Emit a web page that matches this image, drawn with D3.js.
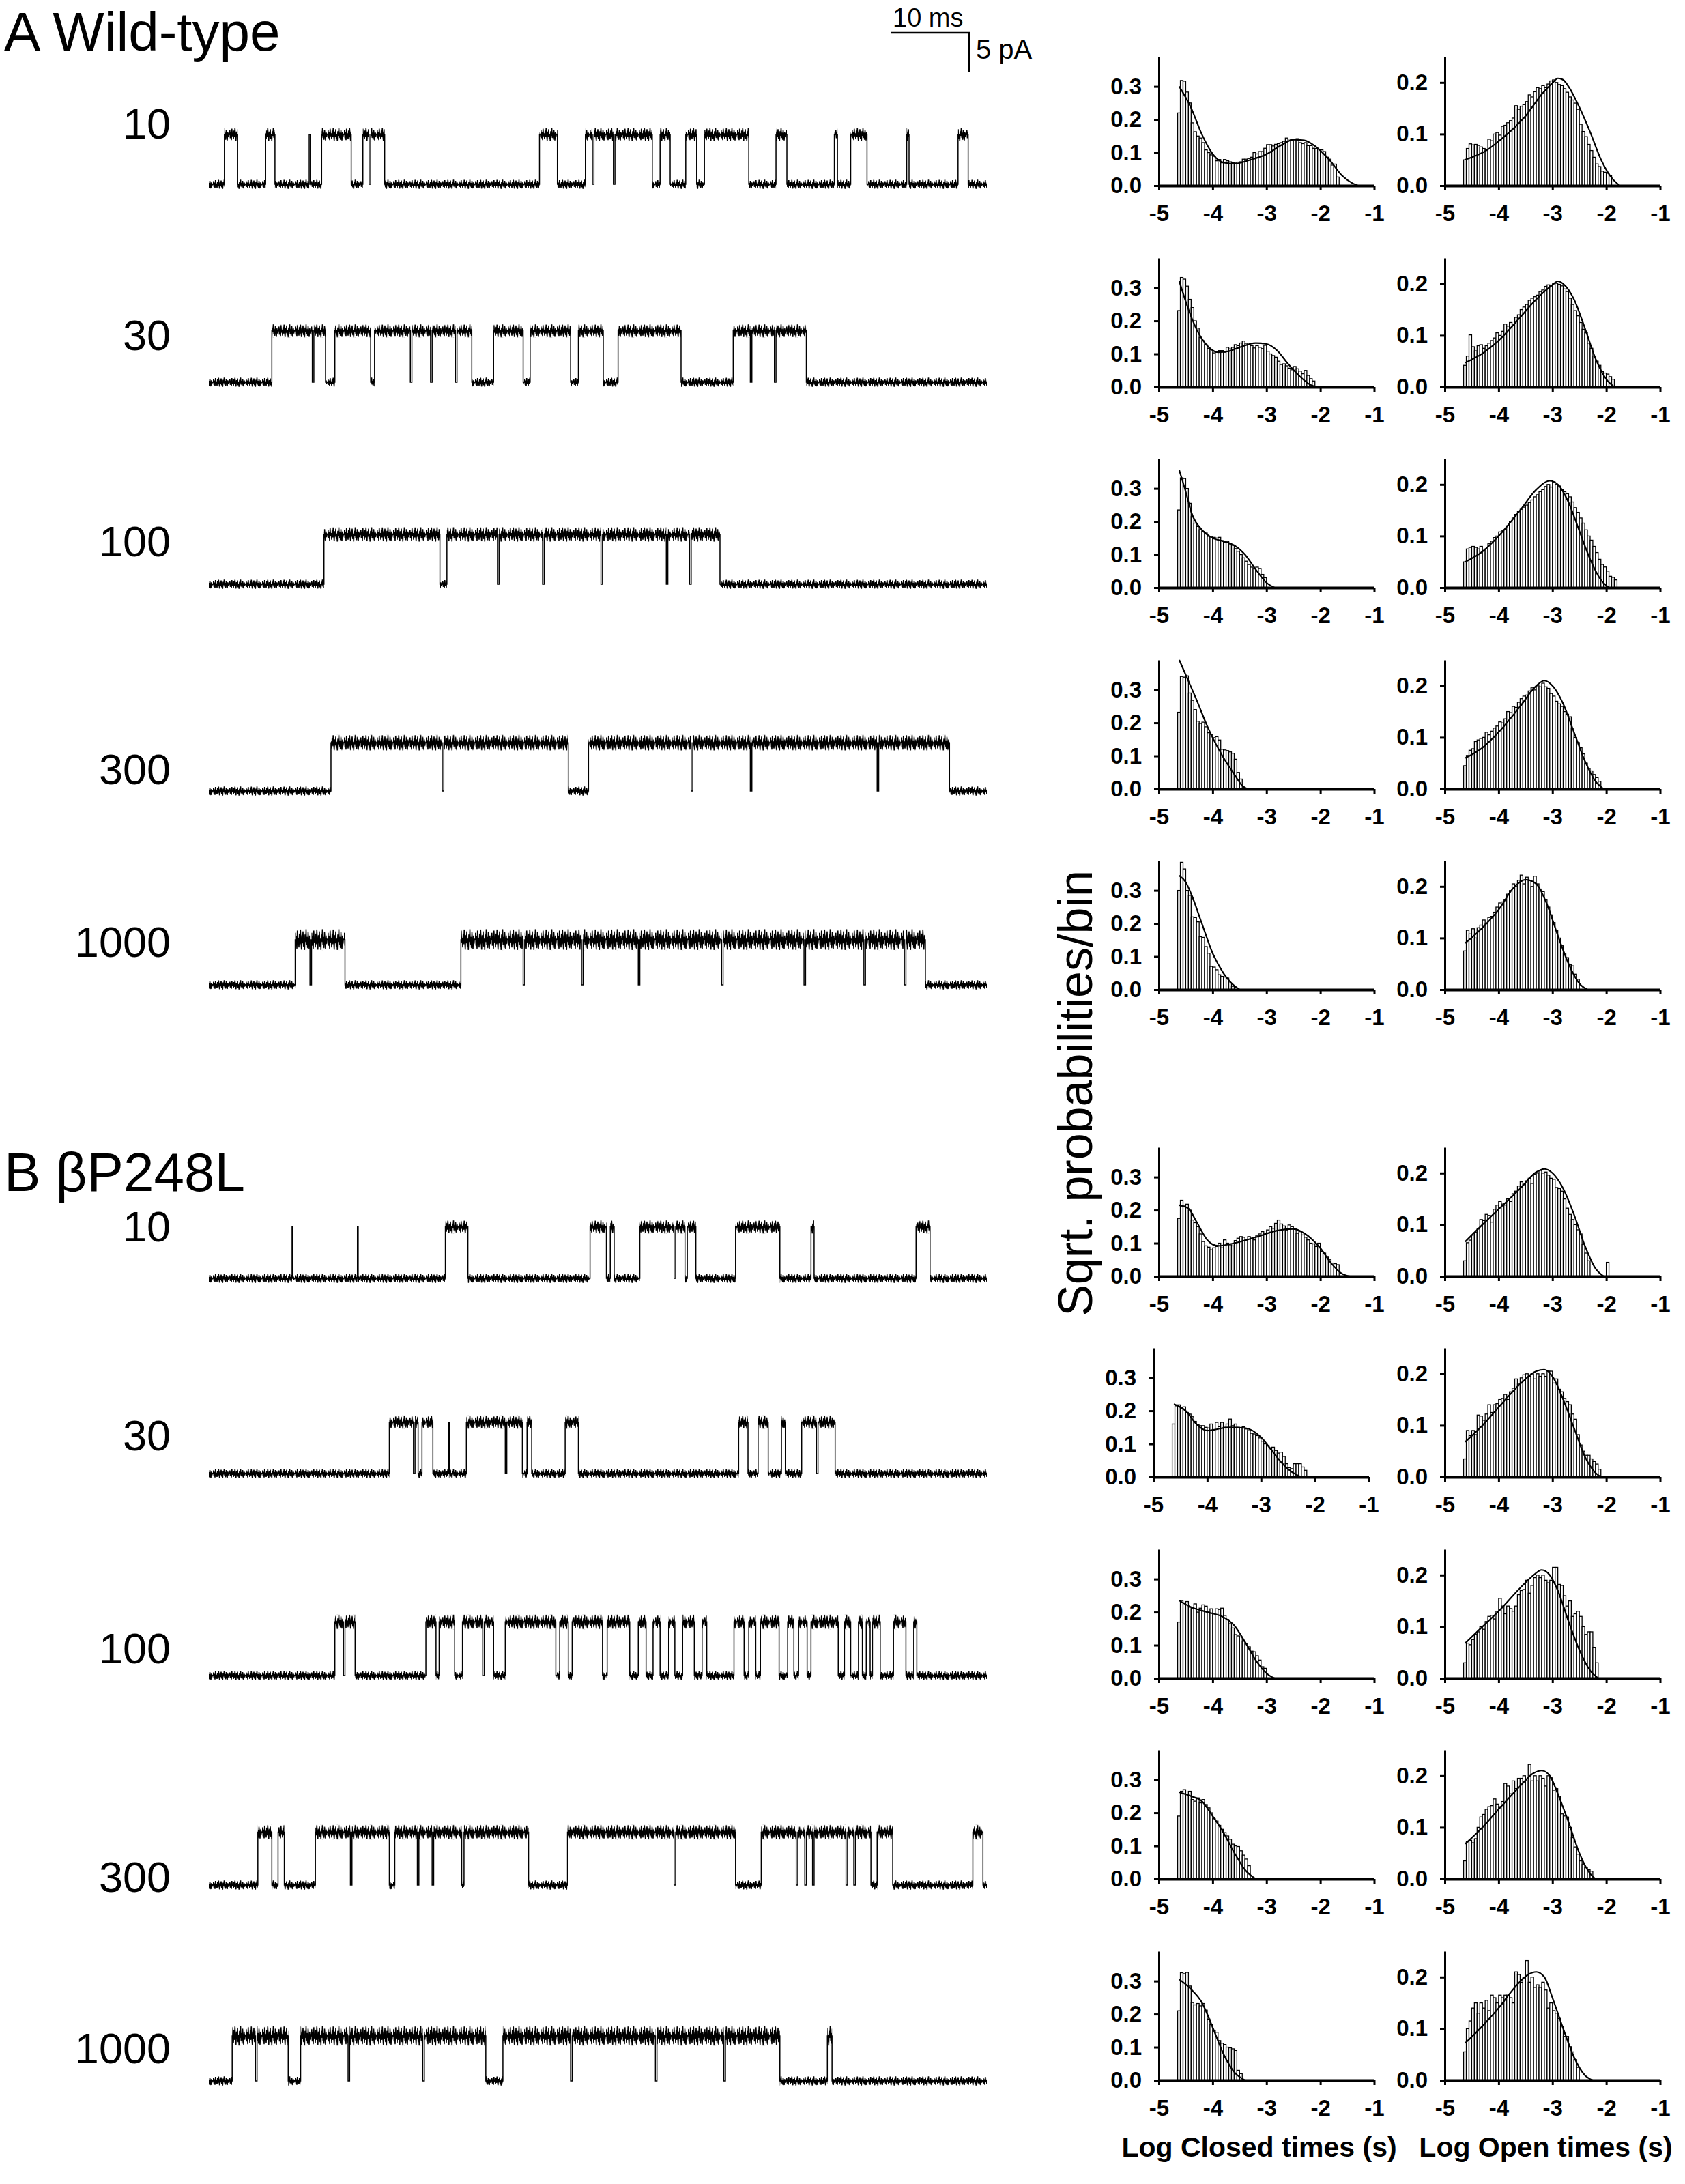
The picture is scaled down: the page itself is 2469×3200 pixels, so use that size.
<!DOCTYPE html>
<html>
<head>
<meta charset="UTF-8" />
<title>Wild-type / βP248L single-channel records</title>
<script src="https://cdn.jsdelivr.net/npm/d3@7"></script>
<style>
	body { margin: 0; background: #fff; }
	svg text { font-family: "Liberation Sans", Arial, Helvetica, sans-serif; fill: #000; }
</style>
</head>
<body>
<svg id="fig" width="2469" height="3200"></svg>
<script>
// ================= data =================
var concentrations = ["10", "30", "100", "300", "1000"];
var traceLength = 100; // ms shown per record

// open-channel amplitude of each record (pA)
var wtAmp  = [6.4, 6.6, 6.4, 6.2, 5.8];
var mutAmp = [6.6, 6.6, 6.9, 6.8, 5.8];

// openings [start, end] in ms
var wtOpenings = [
	[[2.0,3.7],[7.3,8.5],[12.9,13.05],[14.5,18.3],[19.8,20.6],[20.8,22.6],[42.5,44.8],[48.4,49.3],[49.5,52.0],[52.2,57.0],[58.0,59.3],[61.3,62.7],[63.7,69.4],[72.9,74.3],[80.4,80.8],[82.5,84.6],[89.7,90.0],[96.3,97.6]],
	[[8.1,13.3],[13.5,15.0],[16.2,20.8],[21.3,25.9],[26.1,28.5],[28.7,31.7],[31.9,33.8],[36.6,40.4],[41.3,46.5],[47.5,50.7],[52.6,60.7],[67.4,69.6],[69.8,72.7],[72.9,76.8]],
	[[14.8,29.7],[30.6,37.1],[37.3,42.9],[43.1,50.4],[50.6,58.8],[59.0,61.8],[62.0,65.7]],
	[[15.7,30.0],[30.2,46.2],[48.8,62.0],[62.2,69.6],[69.8,85.9],[86.1,95.2]],
	[[11.1,13.0],[13.2,17.5],[32.4,40.4],[40.6,47.9],[48.1,55.2],[55.4,65.9],[66.1,76.5],[76.7,84.2],[84.4,89.4],[89.6,92.1]]
];
var mutOpenings = [
	[[10.7,10.8],[19.1,19.2],[30.4,33.3],[49.0,51.1],[51.6,52.1],[55.4,59.8],[60.0,61.2],[61.5,62.6],[67.7,73.4],[77.4,77.8],[90.9,92.7]],
	[[23.2,26.3],[26.5,26.9],[27.4,28.8],[30.8,30.9],[33.1,38.1],[38.3,40.3],[40.9,41.5],[45.8,47.5],[68.1,69.3],[70.6,71.9],[73.6,74.1],[76.2,78.1],[78.3,80.5]],
	[[16.2,17.3],[17.5,18.8],[27.9,29.2],[29.6,31.6],[32.6,35.2],[35.4,36.6],[38.1,44.6],[45.1,46.2],[46.7,50.6],[51.2,54.1],[55.2,56.2],[57.1,58.0],[59.1,59.9],[60.9,62.4],[63.4,64.0],[67.5,68.8],[69.4,70.3],[70.9,73.3],[74.4,75.2],[75.8,76.9],[77.4,80.9],[81.7,82.5],[83.5,84.0],[84.5,85.0],[85.3,86.3],[88.0,89.6],[90.6,91.0]],
	[[6.3,8.1],[8.9,9.7],[13.7,18.2],[18.4,23.2],[23.9,26.8],[27.0,28.7],[28.9,32.5],[32.8,41.1],[46.1,59.8],[60.0,67.7],[71.0,75.5],[75.7,76.6],[76.8,77.6],[77.8,81.9],[82.1,82.9],[83.1,85.1],[85.9,87.9],[98.2,99.5]],
	[[3.0,6.0],[6.2,10.2],[11.8,17.9],[18.1,27.5],[27.7,35.6],[37.8,46.5],[46.7,57.4],[57.6,66.2],[66.4,73.4],[79.5,80.1]]
];

// dwell-time histograms: sqrt(probability) per bin, bins of 0.05 log units from -4.65
var binStart = -4.65, binWidth = 0.05;

var wtClosedBins = [
	[0.220,0.318,0.316,0.283,0.250,0.190,0.163,0.150,0.144,0.130,0.108,0.100,0.093,0.089,0.075,0.079,0.069,0.079,0.075,0.072,0.069,0.070,0.071,0.072,0.080,0.080,0.082,0.086,0.100,0.096,0.103,0.103,0.113,0.124,0.124,0.120,0.125,0.127,0.130,0.134,0.144,0.141,0.139,0.141,0.142,0.130,0.127,0.130,0.121,0.121,0.113,0.112,0.110,0.108,0.103,0.086,0.080,0.062,0.065,0.026],
	[0.231,0.331,0.326,0.305,0.265,0.240,0.200,0.178,0.150,0.140,0.128,0.117,0.113,0.103,0.105,0.110,0.110,0.105,0.120,0.115,0.120,0.128,0.125,0.133,0.139,0.132,0.128,0.125,0.118,0.125,0.120,0.116,0.126,0.108,0.100,0.095,0.090,0.078,0.068,0.070,0.064,0.057,0.052,0.062,0.055,0.048,0.040,0.050,0.035,0.025,0.018],
	[0.235,0.332,0.330,0.300,0.255,0.215,0.195,0.185,0.175,0.170,0.165,0.155,0.155,0.152,0.150,0.152,0.142,0.138,0.140,0.130,0.128,0.118,0.110,0.100,0.090,0.080,0.070,0.062,0.058,0.062,0.058,0.040,0.030],
	[0.232,0.340,0.338,0.342,0.290,0.268,0.240,0.205,0.198,0.202,0.188,0.170,0.165,0.155,0.158,0.148,0.120,0.118,0.116,0.112,0.108,0.090,0.050,0.030],
	[0.300,0.385,0.365,0.300,0.285,0.220,0.218,0.205,0.160,0.158,0.130,0.110,0.070,0.068,0.060,0.045,0.040,0.038,0.035,0.020,0.010]
];
var wtOpenBins = [
	[0.050,0.072,0.081,0.079,0.080,0.078,0.075,0.072,0.070,0.090,0.087,0.100,0.103,0.098,0.115,0.117,0.122,0.126,0.131,0.155,0.148,0.154,0.157,0.163,0.176,0.172,0.182,0.190,0.188,0.194,0.190,0.197,0.203,0.205,0.200,0.196,0.194,0.188,0.181,0.172,0.166,0.160,0.148,0.119,0.105,0.095,0.080,0.068,0.055,0.042,0.037,0.028,0.026,0.024,0.020],
	[0.042,0.060,0.101,0.078,0.070,0.080,0.082,0.075,0.080,0.085,0.090,0.095,0.105,0.100,0.108,0.122,0.118,0.125,0.122,0.135,0.140,0.150,0.155,0.160,0.168,0.172,0.175,0.178,0.185,0.188,0.195,0.198,0.196,0.200,0.201,0.199,0.196,0.190,0.185,0.172,0.160,0.148,0.138,0.125,0.112,0.105,0.085,0.075,0.060,0.050,0.042,0.030,0.027,0.025,0.020,0.015],
	[0.050,0.075,0.078,0.080,0.078,0.075,0.080,0.072,0.075,0.085,0.090,0.097,0.100,0.108,0.110,0.112,0.120,0.128,0.135,0.142,0.148,0.152,0.156,0.160,0.165,0.170,0.176,0.180,0.186,0.190,0.196,0.200,0.195,0.205,0.200,0.197,0.190,0.186,0.182,0.176,0.166,0.155,0.146,0.135,0.125,0.112,0.100,0.092,0.080,0.068,0.055,0.045,0.040,0.032,0.022,0.020,0.015],
	[0.045,0.065,0.075,0.078,0.092,0.095,0.098,0.100,0.110,0.105,0.112,0.118,0.122,0.130,0.128,0.136,0.150,0.148,0.160,0.158,0.168,0.175,0.180,0.182,0.190,0.196,0.192,0.200,0.198,0.205,0.198,0.195,0.185,0.180,0.170,0.165,0.160,0.150,0.145,0.140,0.118,0.100,0.090,0.080,0.068,0.050,0.040,0.035,0.028,0.022,0.015],
	[0.075,0.115,0.108,0.118,0.100,0.120,0.125,0.135,0.128,0.140,0.142,0.150,0.160,0.168,0.170,0.175,0.185,0.192,0.205,0.200,0.212,0.222,0.205,0.218,0.212,0.200,0.220,0.205,0.195,0.190,0.175,0.160,0.145,0.130,0.115,0.100,0.085,0.070,0.062,0.048,0.046,0.030,0.020]
];
var mutClosedBins = [
	[0.175,0.230,0.215,0.218,0.200,0.170,0.162,0.150,0.128,0.105,0.092,0.088,0.080,0.086,0.090,0.100,0.086,0.110,0.100,0.095,0.092,0.108,0.115,0.120,0.118,0.112,0.120,0.118,0.110,0.122,0.128,0.135,0.130,0.140,0.150,0.145,0.160,0.170,0.158,0.152,0.140,0.155,0.150,0.145,0.130,0.135,0.125,0.118,0.110,0.100,0.098,0.090,0.100,0.075,0.070,0.058,0.050,0.040,0.038,0.035],
	[0.160,0.215,0.218,0.210,0.212,0.195,0.190,0.182,0.168,0.158,0.155,0.155,0.150,0.148,0.160,0.142,0.165,0.152,0.165,0.150,0.160,0.175,0.155,0.160,0.150,0.148,0.152,0.145,0.140,0.132,0.130,0.125,0.118,0.108,0.100,0.095,0.088,0.090,0.080,0.072,0.075,0.062,0.040,0.028,0.025,0.040,0.040,0.040,0.030,0.020],
	[0.170,0.235,0.228,0.232,0.215,0.210,0.225,0.200,0.212,0.222,0.218,0.200,0.210,0.195,0.210,0.208,0.212,0.190,0.178,0.165,0.152,0.132,0.128,0.125,0.112,0.105,0.095,0.082,0.080,0.068,0.055,0.035,0.030],
	[0.190,0.265,0.270,0.255,0.265,0.240,0.235,0.245,0.230,0.240,0.225,0.215,0.200,0.182,0.175,0.162,0.150,0.140,0.130,0.120,0.105,0.100,0.098,0.085,0.072,0.060,0.040],
	[0.210,0.325,0.322,0.326,0.285,0.235,0.228,0.232,0.225,0.232,0.212,0.185,0.168,0.150,0.145,0.120,0.112,0.108,0.100,0.098,0.095,0.090,0.030,0.020]
];
var mutOpenBins = [
	[0.030,0.065,0.070,0.080,0.085,0.092,0.110,0.108,0.120,0.118,0.105,0.130,0.138,0.145,0.140,0.138,0.150,0.145,0.160,0.165,0.175,0.183,0.178,0.185,0.190,0.180,0.198,0.200,0.205,0.200,0.202,0.196,0.190,0.188,0.172,0.170,0.165,0.150,0.132,0.120,0.110,0.100,0.090,0.082,0.062,0.045,0.030,0,0,0,0,0,0,0.027],
	[0.035,0.090,0.080,0.090,0.082,0.120,0.118,0.110,0.122,0.140,0.125,0.140,0.142,0.150,0.152,0.160,0.150,0.165,0.172,0.190,0.180,0.192,0.198,0.200,0.195,0.200,0.190,0.200,0.195,0.200,0.195,0.205,0.205,0.182,0.190,0.170,0.165,0.152,0.146,0.140,0.122,0.112,0.082,0.062,0.050,0.042,0.042,0.035,0.030,0.025,0.015],
	[0.030,0.068,0.065,0.075,0.085,0.090,0.100,0.095,0.110,0.120,0.122,0.115,0.130,0.155,0.140,0.125,0.140,0.135,0.130,0.140,0.162,0.170,0.172,0.190,0.165,0.180,0.195,0.200,0.195,0.200,0.190,0.185,0.190,0.215,0.215,0.182,0.180,0.160,0.140,0.150,0.120,0.125,0.130,0.120,0.100,0.085,0.090,0.090,0.060,0.030],
	[0.035,0.072,0.075,0.070,0.078,0.100,0.120,0.125,0.135,0.140,0.142,0.155,0.145,0.140,0.150,0.185,0.180,0.165,0.190,0.175,0.195,0.195,0.200,0.190,0.222,0.190,0.200,0.190,0.200,0.195,0.180,0.200,0.196,0.172,0.175,0.160,0.126,0.122,0.120,0.100,0.080,0.062,0.048,0.035,0.028,0.022,0.018,0.015],
	[0.055,0.100,0.115,0.140,0.150,0.130,0.150,0.140,0.155,0.135,0.165,0.160,0.150,0.165,0.160,0.165,0.165,0.160,0.150,0.210,0.205,0.190,0.200,0.232,0.190,0.200,0.180,0.185,0.180,0.190,0.175,0.140,0.150,0.135,0.130,0.120,0.105,0.085,0.085,0.065,0.055,0.040,0.025]
];

// fitted curves, [log t, sqrt p] read along each drawn fit
var wtClosedFit = [
	[[-4.62,0.30],[-4.4,0.235],[-4.2,0.155],[-4.0,0.096],[-3.8,0.07],[-3.6,0.066],[-3.3,0.078],[-3.0,0.095],[-2.7,0.125],[-2.5,0.139],[-2.3,0.137],[-2.1,0.12],[-1.9,0.09],[-1.8,0.072],[-1.6,0.031],[-1.4,0.007],[-1.3,0.0]],
	[[-4.62,0.32],[-4.45,0.235],[-4.3,0.175],[-4.1,0.125],[-3.9,0.105],[-3.7,0.108],[-3.5,0.12],[-3.2,0.133],[-3.0,0.13],[-2.8,0.11],[-2.6,0.07],[-2.4,0.035],[-2.2,0.008],[-2.05,0.0]],
	[[-4.62,0.355],[-4.5,0.29],[-4.4,0.23],[-4.2,0.175],[-4.0,0.15],[-3.8,0.14],[-3.6,0.128],[-3.4,0.1],[-3.2,0.055],[-3.0,0.015],[-2.85,0.0]],
	[[-4.62,0.39],[-4.5,0.345],[-4.3,0.27],[-4.1,0.19],[-4.0,0.155],[-3.8,0.095],[-3.6,0.045],[-3.45,0.01],[-3.35,0.0]],
	[[-4.62,0.345],[-4.5,0.325],[-4.4,0.29],[-4.2,0.2],[-4.0,0.11],[-3.8,0.05],[-3.6,0.012],[-3.5,0.0]]
];
var wtOpenFit = [
	[[-4.63,0.05],[-4.2,0.07],[-4.0,0.086],[-3.5,0.135],[-3.2,0.177],[-3.0,0.199],[-2.9,0.208],[-2.8,0.205],[-2.7,0.192],[-2.5,0.152],[-2.3,0.104],[-2.1,0.051],[-1.9,0.015],[-1.75,0.0]],
	[[-4.62,0.047],[-4.3,0.065],[-4.0,0.09],[-3.6,0.135],[-3.3,0.17],[-3.0,0.198],[-2.9,0.205],[-2.8,0.2],[-2.6,0.17],[-2.4,0.115],[-2.2,0.055],[-2.0,0.015],[-1.85,0.0]],
	[[-4.62,0.05],[-4.3,0.07],[-4.0,0.1],[-3.6,0.15],[-3.3,0.19],[-3.05,0.207],[-2.9,0.2],[-2.7,0.165],[-2.5,0.11],[-2.3,0.055],[-2.1,0.015],[-1.95,0.0]],
	[[-4.62,0.06],[-4.3,0.08],[-4.0,0.11],[-3.6,0.16],[-3.3,0.2],[-3.15,0.21],[-3.0,0.2],[-2.8,0.165],[-2.6,0.11],[-2.4,0.055],[-2.2,0.015],[-2.05,0.0]],
	[[-4.62,0.09],[-4.3,0.12],[-4.0,0.155],[-3.7,0.2],[-3.5,0.213],[-3.3,0.205],[-3.1,0.165],[-2.9,0.105],[-2.7,0.05],[-2.5,0.012],[-2.35,0.0]]
];
var mutClosedFit = [
	[[-4.62,0.215],[-4.45,0.205],[-4.3,0.165],[-4.1,0.11],[-3.9,0.092],[-3.6,0.1],[-3.2,0.118],[-2.8,0.138],[-2.5,0.143],[-2.3,0.13],[-2.0,0.085],[-1.8,0.04],[-1.6,0.008],[-1.45,0.0]],
	[[-4.62,0.22],[-4.4,0.2],[-4.2,0.16],[-4.0,0.14],[-3.8,0.145],[-3.6,0.15],[-3.3,0.148],[-3.0,0.12],[-2.8,0.08],[-2.6,0.04],[-2.4,0.012],[-2.25,0.0]],
	[[-4.62,0.235],[-4.4,0.215],[-4.1,0.2],[-3.8,0.185],[-3.6,0.16],[-3.4,0.11],[-3.2,0.055],[-3.0,0.015],[-2.85,0.0]],
	[[-4.62,0.262],[-4.4,0.25],[-4.2,0.235],[-4.0,0.19],[-3.8,0.14],[-3.6,0.08],[-3.4,0.028],[-3.2,0.0]],
	[[-4.62,0.305],[-4.4,0.275],[-4.2,0.235],[-4.0,0.16],[-3.8,0.08],[-3.6,0.025],[-3.4,0.0]]
];
var mutOpenFit = [
	[[-4.62,0.067],[-4.3,0.1],[-4.0,0.13],[-3.6,0.17],[-3.3,0.202],[-3.15,0.208],[-3.0,0.2],[-2.8,0.17],[-2.6,0.12],[-2.4,0.06],[-2.2,0.015],[-2.05,0.0]],
	[[-4.62,0.068],[-4.3,0.1],[-4.0,0.135],[-3.6,0.18],[-3.3,0.205],[-3.15,0.208],[-3.0,0.195],[-2.8,0.15],[-2.6,0.095],[-2.4,0.04],[-2.2,0.008],[-2.1,0.0]],
	[[-4.62,0.068],[-4.3,0.1],[-4.0,0.13],[-3.6,0.175],[-3.35,0.2],[-3.2,0.21],[-3.05,0.2],[-2.9,0.17],[-2.7,0.11],[-2.5,0.055],[-2.3,0.015],[-2.15,0.0]],
	[[-4.62,0.068],[-4.3,0.1],[-4.0,0.135],[-3.6,0.18],[-3.35,0.205],[-3.2,0.21],[-3.05,0.2],[-2.9,0.165],[-2.7,0.11],[-2.5,0.05],[-2.3,0.01],[-2.2,0.0]],
	[[-4.62,0.072],[-4.3,0.105],[-4.0,0.14],[-3.7,0.18],[-3.45,0.205],[-3.3,0.21],[-3.15,0.2],[-3.0,0.16],[-2.8,0.1],[-2.6,0.045],[-2.4,0.01],[-2.25,0.0]]
];

var xTicks = [-5, -4, -3, -2, -1];
var closedTicks = [0, 0.1, 0.2, 0.3];
var openTicks = [0, 0.1, 0.2];

// ================= layout =================
var svg = d3.select("#fig");
svg.append("rect").attr("width", 2469).attr("height", 3200).attr("fill", "#fff");
var defs = svg.append("defs");

var tx = d3.scaleLinear().domain([0, traceLength]).range([306, 1446]);
var pxPerPA = 11.4;
var closedX0 = 1698, openX0 = 2117, histW = 315.5, histH = 189;

var groups = [
	{ title: "A Wild-type", titleY: 74, openings: wtOpenings, amp: wtAmp,
	  traceBase: [270, 560, 856, 1159, 1443], labelY: [203, 513, 815, 1149, 1402],
	  openBand: [20, 20, 22, 24, 32], histBase: [272, 567, 861, 1156, 1450], closedShift: [0, 0, 0, 0, 0],
	  closedBins: wtClosedBins, openBins: wtOpenBins, closedFit: wtClosedFit, openFit: wtOpenFit },
	{ title: "B βP248L", titleY: 1745, openings: mutOpenings, amp: mutAmp,
	  traceBase: [1873, 2159, 2455, 2762, 3049], labelY: [1819, 2125, 2437, 2772, 3023],
	  openBand: [20, 20, 22, 22, 30], histBase: [1870, 2164, 2459, 2753, 3048], closedShift: [0, -8, 0, 0, 0],
	  closedBins: mutClosedBins, openBins: mutOpenBins, closedFit: mutClosedFit, openFit: mutOpenFit }
];

// texture used to render recording noise (appearance only, not data)
var noiseMotif = [0.52,0.18,0.77,0.33,0.91,0.08,0.63,0.41,0.85,0.22,0.70,0.04,0.58,0.95,0.29,0.66,
	0.12,0.81,0.45,0.97,0.26,0.60,0.02,0.74,0.37,0.88,0.15,0.55,0.93,0.31,0.69,0.48];
var noiseStep = 0.75;
var noisePattern = function(h) {
	var id = "noise" + h;
	if (defs.select("#" + id).empty()) {
		var w = noiseMotif.length * noiseStep;
		var p = defs.append("pattern").attr("id", id)
			.attr("patternUnits", "userSpaceOnUse")
			.attr("width", w).attr("height", h);
		var pts = noiseMotif.map(function(v, i) { return [i * noiseStep, v * h]; });
		pts.push([w, noiseMotif[0] * h]);
		p.append("path").attr("d", d3.line()(pts))
			.attr("fill", "none").attr("stroke", "#000").attr("stroke-width", 1.6);
	}
	return "url(#" + id + ")";
};

var dwellSegments = function(openings) {
	var segs = [], t = 0;
	openings.forEach(function(o) {
		if (o[0] > t) segs.push({ t0: t, t1: o[0], open: false });
		segs.push({ t0: o[0], t1: o[1], open: true });
		t = o[1];
	});
	if (t < traceLength) segs.push({ t0: t, t1: traceLength, open: false });
	return segs;
};

var drawTrace = function(openings, amp, base, openBand) {
	var ty = d3.scaleLinear().domain([0, 5]).range([base, base - 5 * pxPerPA]);
	var segs = dwellSegments(openings);
	var g = svg.append("g");
	segs.forEach(function(s) {
		if (s.t1 - s.t0 < 0.25) return;
		var h = s.open ? openBand : 14;
		var level = s.open ? amp : 0;
		g.append("g").attr("transform", "translate(0," + (ty(level) - h / 2) + ")")
			.append("rect")
			.attr("x", tx(s.t0)).attr("y", 0)
			.attr("width", tx(s.t1) - tx(s.t0)).attr("height", h)
			.attr("fill", noisePattern(h));
	});
	var pts = [];
	segs.forEach(function(s) {
		var level = s.open ? amp : 0;
		pts.push([s.t0, level], [s.t1, level]);
	});
	g.append("path")
		.attr("d", d3.line().x(function(d) { return tx(d[0]); }).y(function(d) { return ty(d[1]); })(pts))
		.attr("fill", "none").attr("stroke", "#000").attr("stroke-width", 1.5);
};

var styleAxis = function(ax, domainW) {
	ax.attr("font-size", 33).attr("font-weight", "bold")
		.attr("font-family", '"Liberation Sans", Arial, sans-serif');
	ax.select(".domain").attr("stroke-width", domainW).attr("stroke", "#000");
	ax.selectAll(".tick line").attr("stroke-width", 3).attr("stroke", "#000");
	ax.selectAll(".tick text").attr("fill", "#000");
};

var drawHist = function(bins, fit, x0, base, yMax, ticks) {
	var x = d3.scaleLinear().domain([-5, -1]).range([x0, x0 + histW]);
	var y = d3.scaleLinear().domain([0, yMax]).range([base, base - histH]);
	var g = svg.append("g");
	var bw = x(binStart + binWidth) - x(binStart);
	var data = bins.map(function(v, i) { return { lo: binStart + i * binWidth, v: v }; })
		.filter(function(d) { return d.v > 0; });
	g.selectAll("rect.bar").data(data).join("rect").attr("class", "bar")
		.attr("x", function(d) { return x(d.lo); })
		.attr("width", bw)
		.attr("y", function(d) { return y(d.v); })
		.attr("height", function(d) { return base - y(d.v); })
		.attr("fill", "#fff").attr("stroke", "#000").attr("stroke-width", 1.3);
	g.append("path")
		.attr("d", d3.line().x(function(d) { return x(d[0]); }).y(function(d) { return y(d[1]); })
			.curve(d3.curveMonotoneX)(fit))
		.attr("fill", "none").attr("stroke", "#000").attr("stroke-width", 2.2);
	var xa = g.append("g").attr("transform", "translate(0," + base + ")")
		.call(d3.axisBottom(x).tickValues(xTicks).tickSize(7).tickSizeOuter(0).tickPadding(22)
			.tickFormat(function(d) { return String(d); }));
	styleAxis(xa, 4);
	var ya = g.append("g").attr("transform", "translate(" + x0 + ",0)")
		.call(d3.axisLeft(y).tickValues(ticks).tickSize(7).tickSizeOuter(0).tickPadding(18)
			.tickFormat(d3.format(".1f")));
	styleAxis(ya, 3);
};

groups.forEach(function(grp) {
	svg.append("text").attr("x", 6).attr("y", grp.titleY).attr("font-size", 80).text(grp.title);
	concentrations.forEach(function(c, i) {
		svg.append("text").attr("x", 250).attr("y", grp.labelY[i])
			.attr("text-anchor", "end").attr("font-size", 63).text(c);
		drawTrace(grp.openings[i], grp.amp[i], grp.traceBase[i], grp.openBand[i]);
		drawHist(grp.closedBins[i], grp.closedFit[i], closedX0 + grp.closedShift[i], grp.histBase[i], 0.39, closedTicks);
		drawHist(grp.openBins[i], grp.openFit[i], openX0, grp.histBase[i], 0.25, openTicks);
	});
});

// scale bar: 10 ms, 5 pA
var sbX = 1306, sbY = 48;
var sbW = tx(10) - tx(0), sbH = 5 * pxPerPA;
svg.append("path")
	.attr("d", "M" + sbX + "," + sbY + "H" + (sbX + sbW) + "V" + (sbY + sbH))
	.attr("fill", "none").attr("stroke", "#000").attr("stroke-width", 2.5);
svg.append("text").attr("x", sbX + 2).attr("y", sbY - 9).attr("font-size", 38).text("10 ms");
svg.append("text").attr("x", sbX + sbW + 10).attr("y", sbY + 38).attr("font-size", 40).text("5 pA");

// shared axis labels
svg.append("text").attr("transform", "translate(1600,1602) rotate(-90)")
	.attr("text-anchor", "middle").attr("font-size", 70).text("Sqrt. probabilities/bin");
svg.append("text").attr("x", 1845).attr("y", 3160).attr("text-anchor", "middle")
	.attr("font-size", 41).attr("font-weight", "bold").text("Log Closed times (s)");
svg.append("text").attr("x", 2265).attr("y", 3160).attr("text-anchor", "middle")
	.attr("font-size", 41).attr("font-weight", "bold").text("Log Open times (s)");
</script>
</body>
</html>
